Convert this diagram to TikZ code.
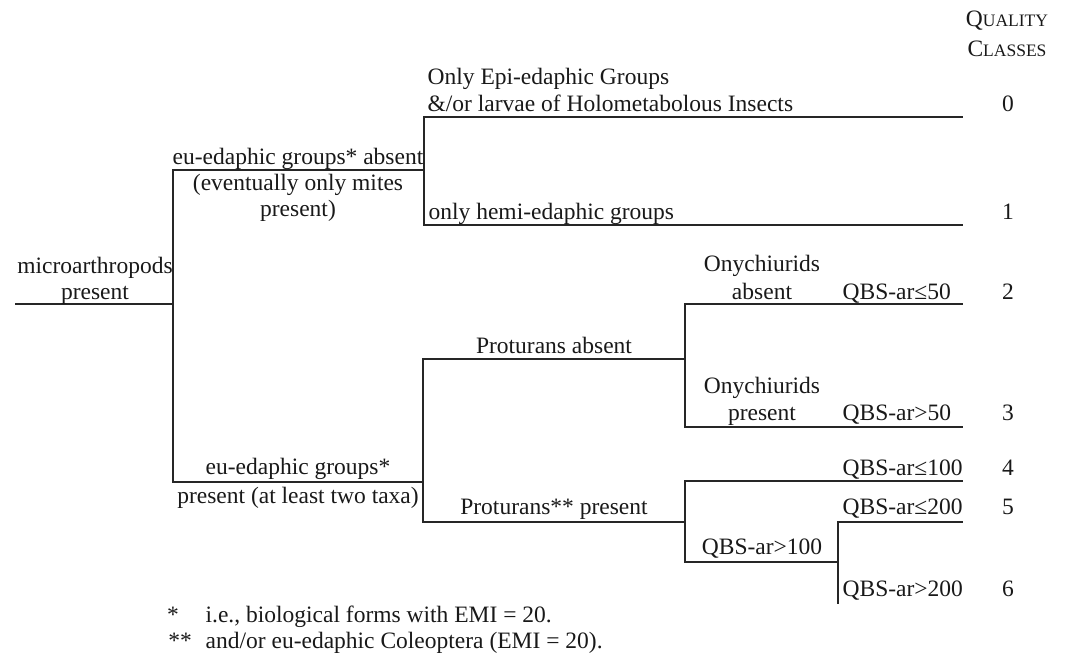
\documentclass[tikz,border=0pt]{standalone}
\usepackage{fontspec}
\setmainfont{Liberation Serif}
\begin{document}
\begin{tikzpicture}[x=1pt,y=-1pt,
  line width=1.3pt, line cap=rect,
  txt/.style={inner sep=0pt, font=\fontsize{23.5}{27}\selectfont, text=black!90},
  ctr/.style={txt, anchor=base},
  lft/.style={txt, anchor=base west},
  branch/.style={draw=black!85}]
\useasboundingbox (0,0) rectangle (1068,655);
% junctions
\coordinate (r0) at (16,304);
\coordinate (j1) at (173,304);
\coordinate (j1t) at (173,170);
\coordinate (j1b) at (173,482);
\coordinate (j2) at (424,170);
\coordinate (j2t) at (424,117);
\coordinate (j2b) at (424,225);
\coordinate (e0) at (962,117);
\coordinate (e1) at (962,225);
\coordinate (j3) at (423,482);
\coordinate (j3t) at (423,359);
\coordinate (j3b) at (423,522);
\coordinate (j4) at (685,359);
\coordinate (j4t) at (685,304);
\coordinate (j4b) at (685,427);
\coordinate (e2) at (962,304);
\coordinate (e3) at (962,427);
\coordinate (j5) at (685,522);
\coordinate (j5t) at (685,481);
\coordinate (j5b) at (685,562);
\coordinate (e4) at (962,481);
\coordinate (j6) at (838,562);
\coordinate (j6t) at (838,522);
\coordinate (j6b) at (838,603);
\coordinate (e5) at (962,522);
% connectors
\draw[branch] (r0) -- (j1);
\draw[branch] (j1t) -- (j1b);
\draw[branch] (j1t) -- (j2);
\draw[branch] (j2t) -- (j2b);
\draw[branch] (j2t) -- (e0);
\draw[branch] (j2b) -- (e1);
\draw[branch] (j1b) -- (j3);
\draw[branch] (j3t) -- (j3b);
\draw[branch] (j3t) -- (j4);
\draw[branch] (j3b) -- (j5);
\draw[branch] (j4t) -- (j4b);
\draw[branch] (j4t) -- (e2);
\draw[branch] (j4b) -- (e3);
\draw[branch] (j5t) -- (j5b);
\draw[branch] (j5t) -- (e4);
\draw[branch] (j5b) -- (j6);
\draw[branch] (j6t) -- (j6b);
\draw[branch] (j6t) -- (e5);
% labels
\node[ctr] (mp1) at (95,273) {microarthropods};
\node[ctr] (mp2) at (95,299) {present};
\node[ctr] (ua1) at (298,165) {eu-edaphic groups* absent};
\node[ctr] (ua2) at (298,191) {(eventually only mites};
\node[ctr] (ua3) at (298,217) {present)};
\node[lft] (ep1) at (427,85) {Only Epi-edaphic Groups};
\node[lft] (ep2) at (427,112) {\&/or larvae of Holometabolous Insects};
\node[lft] (hm) at (428,219) {only hemi-edaphic groups};
\node[ctr] (pa) at (554,353) {Proturans absent};
\node[ctr] (oa1) at (762,271) {Onychiurids};
\node[ctr] (oa2) at (762,299) {absent};
\node[lft] (qa) at (842,299) {QBS-ar≤50};
\node[ctr] (op1) at (762,393) {Onychiurids};
\node[ctr] (op2) at (762,420) {present};
\node[lft] (qb) at (842,420) {QBS-ar>50};
\node[ctr] (up1) at (298,474) {eu-edaphic groups*};
\node[ctr] (up2) at (298,503) {present (at least two taxa)};
\node[ctr] (pp) at (554,514) {Proturans** present};
\node[lft] (qc) at (842,475) {QBS-ar≤100};
\node[lft] (qd) at (842,514) {QBS-ar≤200};
\node[ctr] (qe) at (762,554) {QBS-ar>100};
\node[lft] (qf) at (842,596) {QBS-ar>200};
% quality classes
\node[ctr] (h1) at (1007,27) {Q{\fontsize{17.5}{20}\selectfont UALITY}};
\node[ctr] (h2) at (1007,57) {C{\fontsize{17.5}{20}\selectfont LASSES}};
\node[ctr] (c0) at (1008,112) {0};
\node[ctr] (c1) at (1008,219) {1};
\node[ctr] (c2) at (1008,299) {2};
\node[ctr] (c3) at (1008,420) {3};
\node[ctr] (c4) at (1008,475) {4};
\node[ctr] (c5) at (1008,514) {5};
\node[ctr] (c6) at (1008,596) {6};
% footnotes
\node[ctr] (s1) at (173,622) {*};
\node[lft] (f1) at (205,622) {i.e., biological forms with EMI = 20.};
\node[ctr] (s2) at (180,648) {**};
\node[lft] (f2) at (205,648) {and/or eu-edaphic Coleoptera (EMI = 20).};
\end{tikzpicture}
\end{document}
